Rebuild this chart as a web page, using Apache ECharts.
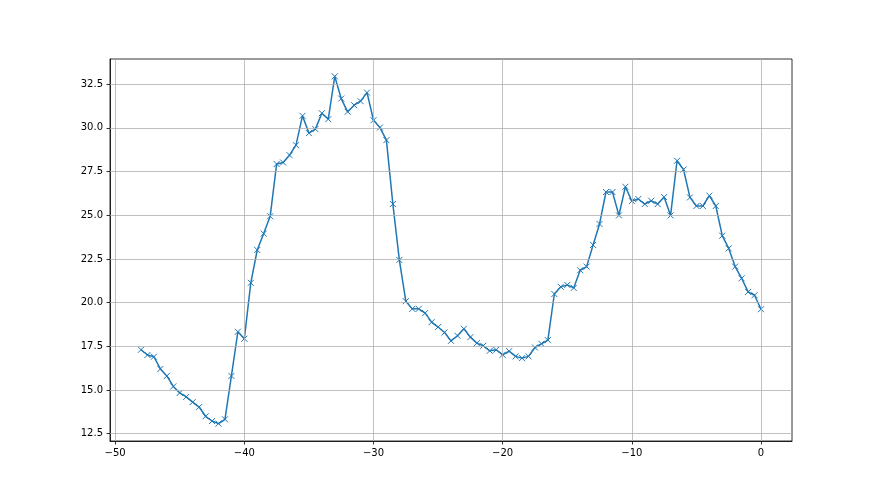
<!DOCTYPE html>
<html>
<head>
<meta charset="utf-8">
<script src="https://cdn.jsdelivr.net/npm/echarts@6/dist/echarts.min.js"></script>
<style>html,body{margin:0;padding:0;background:#fff}#c{width:880px;height:495px}</style>
</head>
<body>
<div id="c"></div>
<script>
// x positions: -48 .. 0, step 0.5
const xValues = [
  -48, -47.5, -47, -46.5, -46, -45.5, -45, -44.5, -44, -43.5, -43, -42.5, -42, -41.5, -41, -40.5, -40,
  -39.5, -39, -38.5, -38, -37.5, -37, -36.5, -36, -35.5, -35, -34.5, -34, -33.5, -33, -32.5, -32, -31.5, -31, -30.5, -30, -29.5, -29, -28.5, -28,
  -27.5, -27, -26.5, -26, -25.5, -25, -24.5, -24, -23.5, -23, -22.5, -22, -21.5, -21, -20.5, -20, -19.5, -19, -18.5, -18, -17.5, -17, -16.5,
  -16, -15.5, -15, -14.5, -14, -13.5, -13, -12.5, -12, -11.5, -11, -10.5, -10, -9.5, -9, -8.5, -8, -7.5, -7, -6.5, -6, -5.5, -5, -4.5, -4, -3.5, -3, -2.5, -2, -1.5, -1, -0.5, 0
];
const yValues = [
  17.3, 17.0, 16.9, 16.2, 15.8, 15.2, 14.83, 14.6, 14.3, 14.02, 13.49, 13.22, 13.07, 13.32, 15.8, 18.33, 17.93,
  21.13, 23.01, 23.95, 24.94, 27.93, 28.02, 28.44, 29.01, 30.69, 29.7, 29.93, 30.84, 30.5, 32.95, 31.68, 30.92, 31.3, 31.53, 32.02, 30.44, 30.02, 29.3, 25.64, 22.44,
  20.08, 19.64, 19.64, 19.4, 18.88, 18.6, 18.29, 17.81, 18.1, 18.5, 18.02, 17.68, 17.53, 17.24, 17.3, 17.01, 17.22, 16.92, 16.82, 16.92, 17.43, 17.64, 17.85,
  20.49, 20.9, 21.01, 20.84, 21.85, 22.06, 23.3, 24.5, 26.33, 26.33, 24.99, 26.63, 25.81, 25.93, 25.64, 25.83, 25.64, 26.04, 24.99, 28.12, 27.62, 26.02, 25.53, 25.53, 26.12, 25.53, 23.83, 23.1, 22.06, 21.39, 20.61, 20.42, 19.62
];
const xTicks = [-50, -40, -30, -20, -10, 0];
const yTicks = [12.5, 15.0, 17.5, 20.0, 22.5, 25.0, 27.5, 30.0, 32.5];

// matplotlib-like 5% margins
function padded(arr) {
  const lo = Math.min.apply(null, arr), hi = Math.max.apply(null, arr);
  const m = (hi - lo) * 0.05;
  return [lo - m, hi + m];
}
const xr = padded(xValues), yr = padded(yValues);
const fmtX = v => String(v).replace('-', '\u2212');
const fmtY = v => v.toFixed(1);

const font = { fontFamily: 'DejaVu Sans', fontSize: 10, color: '#000' };

const chart = echarts.init(document.getElementById('c'), null, { renderer: 'canvas' });
chart.setOption({
  animation: false,
  backgroundColor: '#fff',
  grid: { left: 110, right: 88, top: 59, bottom: 54, show: true, borderColor: '#000', borderWidth: 0.8, containLabel: false },
  xAxis: {
    type: 'value', min: xr[0], max: xr[1],
    axisLine: { show: true, onZero: false, lineStyle: { color: '#000', width: 0.8 } },
    axisTick: { show: true, length: 3.5, lineStyle: { color: '#000', width: 0.8 }, customValues: xTicks },
    axisLabel: Object.assign({ margin: 7, formatter: fmtX, customValues: xTicks }, font),
    splitLine: { show: false }
  },
  yAxis: {
    type: 'value', min: yr[0], max: yr[1],
    axisLine: { show: true, onZero: false, lineStyle: { color: '#000', width: 0.8 } },
    axisTick: { show: true, length: 3.5, lineStyle: { color: '#000', width: 0.8 }, customValues: yTicks },
    axisLabel: Object.assign({ margin: 7, formatter: fmtY, customValues: yTicks }, font),
    splitLine: { show: false }
  },
  series: [{
    type: 'line',
    data: xValues.map((x, i) => [x, yValues[i]]),
    lineStyle: { color: '#1f77b4', width: 1.5 },
    symbol: 'path://M0 0L10 10M10 0L0 10',
    symbolSize: 6,
    showAllSymbol: true,
    itemStyle: { color: 'none', borderColor: '#1f77b4', borderWidth: 1 },
    z: 3,
    markLine: {
      silent: true, symbol: 'none', animation: false,
      label: { show: false },
      lineStyle: { color: '#b0b0b0', width: 0.8, type: 'solid' },
      data: xTicks.map(v => ({ xAxis: v })).concat(yTicks.map(v => ({ yAxis: v })))
    }
  }]
});
</script>
</body>
</html>
